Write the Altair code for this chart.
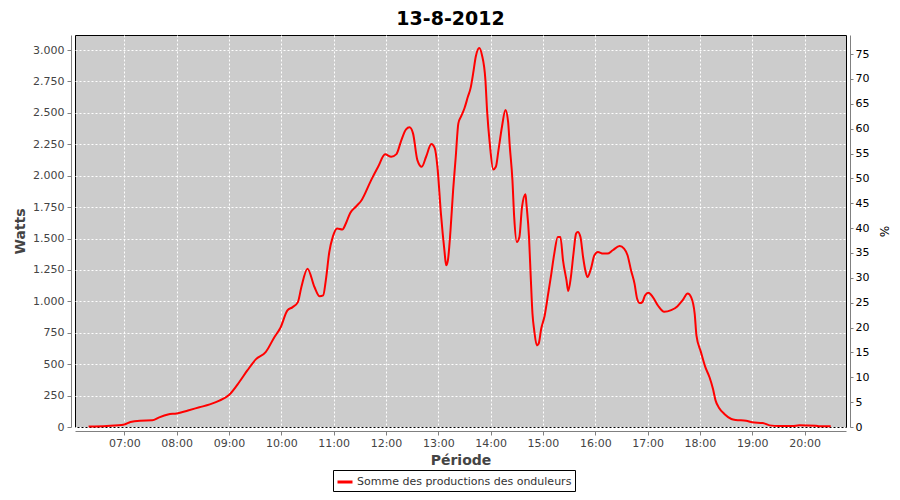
import altair as alt
import pandas as pd

times = ["06:19", "06:40", "07:00", "07:07", "07:18", "07:32", "07:40", "07:50", "08:00", "08:13",
         "08:26", "08:38", "08:49", "09:00", "09:12", "09:21", "09:31", "09:42", "09:52", "09:59",
         "10:07", "10:13", "10:19", "10:23", "10:30", "10:38", "10:44", "10:48", "10:51", "10:55",
         "10:59", "11:04", "11:10", "11:14", "11:19", "11:26", "11:32", "11:43", "11:51", "11:59",
         "12:06", "12:12", "12:17", "12:23", "12:27", "12:31", "12:36", "12:41", "12:46", "12:52",
         "12:56", "12:59", "13:03", "13:07", "13:09", "13:11", "13:14", "13:17", "13:20", "13:23",
         "13:26", "13:30", "13:34", "13:37", "13:40", "13:43", "13:47", "13:50", "13:54", "13:56",
         "13:59", "14:03", "14:06", "14:09", "14:13", "14:17", "14:20", "14:22", "14:25", "14:27",
         "14:30", "14:33", "14:36", "14:40", "14:41", "14:44", "14:46", "14:48", "14:50", "14:53",
         "14:55", "14:58", "15:02", "15:06", "15:09", "15:13", "15:17", "15:20", "15:23", "15:27",
         "15:29", "15:32", "15:35", "15:38", "15:40", "15:43", "15:46", "15:49", "15:51", "15:55",
         "15:59", "16:03", "16:09", "16:14", "16:20", "16:28", "16:33", "16:37", "16:41", "16:45",
         "16:48", "16:51", "16:54", "16:57", "17:01", "17:06", "17:12", "17:19", "17:27", "17:34",
         "17:40", "17:46", "17:50", "17:54", "17:56", "18:01", "18:06", "18:11", "18:15", "18:18",
         "18:22", "18:28", "18:36", "18:41", "18:53", "19:00", "19:12", "19:20", "19:31", "19:46",
         "19:54", "20:13", "20:17", "20:30"]
watts = [3, 8, 20, 40, 50, 53, 77, 100, 108, 132,
         157, 180, 210, 255, 360, 450, 540, 595, 715, 790,
         928, 954, 994, 1114, 1260, 1114, 1040, 1047, 1167, 1393,
         1513, 1580, 1572, 1620, 1704, 1757, 1805, 1965, 2071, 2170,
         2151, 2172, 2270, 2369, 2385, 2337, 2124, 2071, 2151, 2252,
         2218, 2071, 1699, 1406, 1287, 1327, 1566, 1885, 2151, 2417,
         2470, 2537, 2630, 2697, 2816, 2949, 3016, 2962, 2763, 2510,
         2258, 2050, 2071, 2204, 2390, 2523, 2430, 2231, 1965, 1672,
         1473, 1513, 1752, 1853, 1779, 1513, 1193, 901, 768, 649,
         662, 782, 888, 1061, 1193, 1380, 1513, 1513, 1327, 1167,
         1082, 1193, 1380, 1540, 1553, 1513, 1353, 1233, 1193, 1260,
         1367, 1393, 1380, 1380, 1407, 1440, 1420, 1367, 1247, 1141,
         1021, 986, 994, 1047, 1069, 1034, 965, 917, 930, 960,
         1008, 1063, 1032, 901, 730, 600, 480, 396, 303, 210,
         152, 104, 64, 56, 50, 37, 32, 13, 8, 8,
         13, 10, 5, 5]
serie = "Somme des productions des onduleurs"
capacity_w = 3960  # puissance crête, pour l'axe en %

df = pd.DataFrame({
    "t": ["2012-08-13T" + s + ":00" for s in times],
    "watts": watts,
    "serie": serie,
})

FONT = "DejaVu Sans"
x_domain = [alt.DateTime(year=2012, month=8, date=13, hours=6, minutes=3, seconds=24),
            alt.DateTime(year=2012, month=8, date=13, hours=20, minutes=47, seconds=30)]
x_ticks = [alt.DateTime(year=2012, month=8, date=13, hours=h) for h in range(7, 21)]

x_enc = alt.X("t:T", scale=alt.Scale(domain=x_domain, nice=False),
              axis=alt.Axis(values=x_ticks, format="%H:%M", title="Période",
                            grid=True, gridColor="white", gridDash=[2, 2], gridWidth=1,
                            domainColor="#808080", tickColor="#808080", tickSize=4,
                            labelFont=FONT, labelFontSize=11, labelColor="#444444",
                            labelPadding=2, offset=4,
                            titleFont=FONT, titleFontSize=14, titleFontWeight="bold",
                            titleColor="#444444", titlePadding=5))

line = alt.Chart(df).mark_line(strokeWidth=2, interpolate="monotone").encode(
    x=x_enc,
    y=alt.Y("watts:Q", scale=alt.Scale(domain=[0, 3120], nice=False, zero=True),
            axis=alt.Axis(orient="left", values=list(range(0, 3001, 250)), title="Watts",
                          labelExpr="replace(format(datum.value, ',d'), ',', '.')",
                          grid=True, gridColor="white", gridDash=[2, 2], gridWidth=1,
                          domainColor="#808080", tickColor="#808080", tickSize=4,
                          labelFont=FONT, labelFontSize=11, labelColor="#444444",
                          labelPadding=3, offset=4,
                          titleFont=FONT, titleFontSize=14, titleFontWeight="bold",
                          titleColor="#444444", titlePadding=5)),
    color=alt.Color("serie:N", scale=alt.Scale(domain=[serie], range=["#ff0000"]),
                    legend=alt.Legend(title=None, orient="none", legendX=258, legendY=435,
                                      symbolType="stroke", symbolStrokeWidth=3, symbolSize=225,
                                      labelFont=FONT, labelFontSize=11, labelColor="#333333",
                                      labelLimit=0, strokeColor="black", fillColor="white",
                                      padding=3, labelOffset=3)),
)

pct = alt.Chart(df).transform_calculate(
    pct=f"datum.watts / {capacity_w} * 100"
).mark_line(opacity=0).encode(
    x=alt.X("t:T"),
    y=alt.Y("pct:Q", scale=alt.Scale(domain=[0, 78.83], nice=False, zero=True),
            axis=alt.Axis(orient="right", values=list(range(0, 76, 5)), title="%",
                          grid=False, domainColor="#808080", tickColor="#808080", tickSize=3,
                          labelFont=FONT, labelFontSize=11, labelColor="#000000",
                          labelPadding=2, offset=4,
                          titleFont=FONT, titleFontSize=12, titleFontWeight="normal",
                          titleColor="#000000", titlePadding=8)),
)

chart = alt.layer(line, pct).resolve_scale(y="independent").properties(
    width=771, height=392,
    title=alt.Title("13-8-2012", font=FONT, fontSize=19, fontWeight="bold", color="black",
                    anchor="middle", dx=-10, offset=6),
    padding={"left": 67, "top": 27, "right": 46, "bottom": 65},
    autosize=alt.AutoSizeParams(type="none"),
    background="white",
).configure_view(fill="#cccccc", stroke="black", strokeWidth=1)

chart.save("out.html", embed_options={"renderer": "svg", "actions": False})
